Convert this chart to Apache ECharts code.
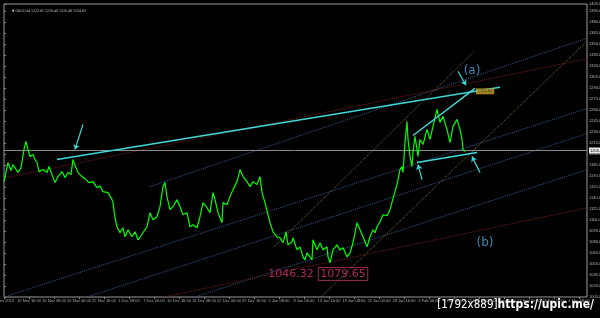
<!DOCTYPE html>
<html><head><meta charset="utf-8">
<script src="https://cdn.jsdelivr.net/npm/echarts@6/dist/echarts.min.js"></script>
<style>html,body{margin:0;padding:0;background:#000;}#c{width:600px;height:318px;}</style>
</head><body><div id="c"></div>
<script>
// bar index (time) and close price
const bars = [0,4,7,9,14,17,20,22,24,26,29,31,33,35,39,43,45,48,51,54,58,61,64,67,69,71,74,78,82,85,89,93,96,99,104,108,109,111,113,116,119,121,124,128,131,134,137,139,143,146,149,153,156,159,161,163,166,169,173,176,179,183,186,189,193,196,199,203,206,209,211,214,218,219,223,226,229,233,236,239,243,246,249,253,256,258,261,264,266,269,273,276,279,282,284,288,289,293,296,299,301,303,306,308,309,313,316,319,323,324,326,329,333,336,339,343,346,349,353,356,359,363,366,369,371,373,376,379,383,386,389,393,396,398,399,401,403,404,406,408,409,411,413,414,416,419,423,426,429,433,436,439,443,446,449,453,456,458,459,461];
const prices = [1162.5,1188.6,1177.6,1185.8,1174.9,1181.7,1206.4,1217.3,1206.4,1196.8,1199.5,1192.7,1188.6,1176.2,1179.0,1174.9,1183.1,1172.1,1161.2,1169.4,1176.2,1168.0,1174.9,1172.1,1192.7,1184.4,1174.9,1169.4,1165.3,1161.2,1162.5,1154.3,1157.0,1148.8,1147.5,1137.9,1133.8,1113.2,1100.9,1092.7,1099.5,1087.2,1096.8,1087.2,1094.0,1083.1,1088.6,1087.2,1100.9,1120.1,1110.5,1114.6,1128.3,1155.7,1161.2,1142.0,1124.2,1128.3,1137.9,1128.3,1117.3,1120.1,1100.9,1103.6,1099.5,1114.6,1133.8,1126.9,1120.1,1147.5,1137.9,1120.1,1106.4,1133.8,1131.0,1142.0,1151.6,1162.5,1179.0,1169.4,1162.5,1155.7,1162.5,1158.4,1169.4,1147.5,1133.8,1117.3,1106.4,1094.0,1087.2,1085.8,1079.0,1094.0,1076.2,1080.3,1085.8,1069.4,1073.5,1059.8,1055.7,1065.3,1059.8,1055.7,1083.1,1069.4,1079.0,1069.4,1073.5,1059.8,1051.6,1069.4,1076.2,1069.4,1072.1,1059.8,1065.3,1079.0,1106.4,1096.8,1087.2,1073.5,1087.2,1096.8,1092.7,1100.9,1107.7,1117.3,1116.0,1124.2,1139.2,1158.4,1179.0,1183.1,1174.9,1215.9,1244.7,1220.1,1196.8,1183.1,1202.3,1224.2,1206.4,1196.8,1220.1,1213.2,1233.8,1220.1,1237.9,1261.2,1243.4,1251.6,1233.8,1215.9,1237.9,1247.5,1233.8,1220.1,1206.4,1203.6];

const yMin = 1005, yMax = 1405, yStep = 15;
const xMin = 0, xMax = 583, xStep = 25;
const xTickLabels = ['4 Nov 2015','10 Nov 16:00','16 Nov 08:00','20 Nov 00:00','25 Nov 16:00','1 Dec 08:00','7 Dec 00:00','10 Dec 16:00','16 Dec 08:00','22 Dec 00:00','29 Dec 16:00','5 Jan 08:00','8 Jan 00:00','13 Jan 16:00','19 Jan 08:00','25 Jan 00:00','28 Jan 16:00','3 Feb 08:00','9 Feb 00:00','12 Feb 16:00','18 Feb 08:00','24 Feb 00:00','29 Feb 16:00','4 Mar 08:00'];

const currentPrice = 1205.0;
const titleText = '\u25BC GOLD,H4 1223.91 1225.45 1220.48 1224.82';

// solid cyan trend lines [[bar,price],[bar,price]]
const trendLines = [
  [[53,1192.7],[496,1291.3]],
  [[409,1225.5],[471,1289.9]],
  [[413,1188.6],[473,1202.3]]
];
// cyan arrows, head at second point
const arrows = [
  [[79,1240.6],[71,1206.4]],
  [[454,1313.2],[462,1294.0]],
  [[418,1165.3],[414,1185.8]],
  [[476,1174.9],[468,1196.8]]
];
// dotted channel lines
const blueLines = [
  [[146,1155.7],[583,1358.3]],
  [[0,1005.0],[583,1262.4]],
  [[83,1005.0],[583,1228.1]],
  [[191,1005.0],[583,1178.8]]
];
const redLines = [
  [[0,1167.2],[583,1330.1]],
  [[160,1005.0],[583,1126.7]]
];
const orangeLines = [
  [[317,1005.0],[583,1354.2]],
  [[270,1073.5],[470,1340.0]]
];
const notes = [
  {name:'(a)', value:[468,1313.2]},
  {name:'(b)', value:[481,1079.0]}
];
const priceNotes = [
  {name:'1046.32', value:[287,1036.5]}
];
const boxedNotes = [
  {name:'1079.65', value:[339,1036.5]}
];
const tagNotes = [
  {name:'1283.82', value:[481,1285.8]}
];

function segs(list){ return list.map(s => ({coords: s})); }

const chart = echarts.init(document.getElementById('c'), null, {renderer:'canvas'});
chart.setOption({
  backgroundColor:'#000',
  animation:false,
  title:[
    {text:titleText, left:7, top:4, textStyle:{fontSize:3.5, color:'#cfcfcf', fontWeight:'normal', fontFamily:'DejaVu Sans Condensed, DejaVu Sans'}},
    {text:'{a|[1792x889]}{b|https://upic.me/}', right:1, bottom:2,
      textStyle:{rich:{
        a:{fontSize:11.5, color:'#fff', fontFamily:'DejaVu Sans Condensed, DejaVu Sans', fontWeight:'normal'},
        b:{fontSize:12, color:'#fff', fontFamily:'Liberation Sans Narrow, DejaVu Sans Condensed, sans-serif', fontWeight:'bold'}}}}
  ],
  grid:{left:4, right:13, top:4, bottom:21, containLabel:false, outerBoundsMode:'none', show:true, borderColor:'#9a9a9a', borderWidth:1, backgroundColor:'#000'},
  xAxis:{type:'value', min:xMin, max:xMax, interval:xStep,
    axisLine:{show:false}, axisTick:{show:true, length:2, lineStyle:{color:'#888'}},
    splitLine:{show:false},
    axisLabel:{fontSize:4, color:'#aaa', margin:2, formatter:(v)=>xTickLabels[Math.round(v/xStep)]||''}},
  yAxis:{type:'value', position:'right', min:yMin, max:yMax, interval:yStep,
    axisLine:{show:false}, axisTick:{show:true, length:2, lineStyle:{color:'#888'}},
    splitLine:{show:false},
    axisLabel:{fontSize:4, color:'#bbb', margin:2, formatter:(v)=>v.toFixed(1)}},
  series:[
    {type:'lines', coordinateSystem:'cartesian2d', data:segs(blueLines), silent:true,
      lineStyle:{color:'#2d5f8f', width:1, type:'dotted', opacity:1}},
    {type:'lines', coordinateSystem:'cartesian2d', data:segs(redLines), silent:true,
      lineStyle:{color:'#7a1a1a', width:1, type:'dotted', opacity:1}},
    {type:'lines', coordinateSystem:'cartesian2d', data:segs(orangeLines), silent:true,
      lineStyle:{color:'#7d6a2a', width:1, type:'dotted', opacity:1}},
    {type:'line', data:bars.map((b,i)=>[b,prices[i]]), showSymbol:false, symbol:'none',
      lineStyle:{color:'#00ff00', width:1.2}, z:5,
      markLine:{silent:true, symbol:'none', data:[{yAxis:currentPrice}],
        lineStyle:{color:'#8a8a8a', width:1, type:'solid'},
        label:{show:true, position:'end', formatter:currentPrice.toFixed(2), fontSize:4, color:'#000', backgroundColor:'#e8e8e8', padding:[1,1], distance:2}}},
    {type:'lines', coordinateSystem:'cartesian2d', data:segs(trendLines), silent:true, z:6,
      lineStyle:{color:'#3fd8d8', width:1.5, opacity:1}},
    {type:'lines', coordinateSystem:'cartesian2d', data:segs(arrows), silent:true, z:6,
      symbol:['none','arrow'], symbolSize:5,
      lineStyle:{color:'#3fd8d8', width:1.2, opacity:1}},
    {type:'scatter', data:notes, symbolSize:0, z:7,
      label:{show:true, formatter:'{b}', position:'inside', fontSize:12, color:'#4aa8e0', fontFamily:'DejaVu Sans'}},
    {type:'scatter', data:priceNotes, symbolSize:0, z:7,
      label:{show:true, formatter:'{b}', position:'inside', fontSize:11, color:'#d8307a', fontFamily:'DejaVu Sans'}},
    {type:'scatter', data:boxedNotes, symbolSize:0, z:7,
      label:{show:true, formatter:'{b}', position:'inside', fontSize:11, color:'#d8307a', fontFamily:'DejaVu Sans', borderColor:'#c0306a', borderWidth:1, padding:[1,2]}},
    {type:'scatter', data:tagNotes, symbolSize:0, z:7,
      label:{show:true, formatter:'{b}', position:'inside', fontSize:4, color:'#222', backgroundColor:'#c9a227', padding:[1,2]}}
  ]
});
</script>
</body></html>
